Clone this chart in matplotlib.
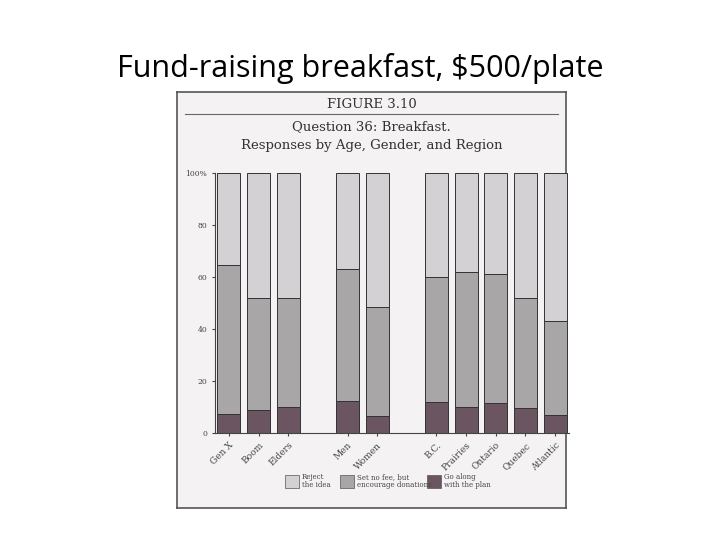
import matplotlib
matplotlib.use("Agg")
import matplotlib.pyplot as plt
from matplotlib.patches import Rectangle

categories = ["Gen X", "Boom", "Elders", "Men", "Women", "B.C.", "Prairies", "Ontario", "Quebec", "Atlantic"]
positions = [0, 1, 2, 4, 5, 7, 8, 9, 10, 11]
go_along = [7.5, 9, 10, 12.5, 6.5, 12, 10, 11.5, 9.5, 7]
no_fee = [57, 43, 42, 50.5, 42, 48, 52, 49.5, 42.5, 36]
reject = [100 - a - b for a, b in zip(go_along, no_fee)]
yticks = [0, 20, 40, 60, 80, 100]
ytick_labels = ["0", "20", "40", "60", "80", "100%"]
legend_labels = ["Reject\nthe idea", "Set no fee, but\nencourage donations", "Go along\nwith the plan"]

W, H = 720, 540
fig = plt.figure(figsize=(7.2, 5.4), dpi=100)
fig.patch.set_facecolor("white")
fig.text(0.5, 1 - 68 / H, "Fund-raising breakfast, $500/plate", ha="center", va="center",
         fontsize=22, family="Open Sans")

FX0, FY0, FW, FH = 177, 92, 389, 416
def fx(x): return (x - FX0) / FW
def fy(y): return 1 - (y - FY0) / FH

fr = fig.add_axes([FX0 / W, 1 - (FY0 + FH) / H, FW / W, FH / H])
fr.set_xlim(0, 1); fr.set_ylim(0, 1)
fr.set_facecolor("#f4f2f2")
fr.set_xticks([]); fr.set_yticks([])
for s in fr.spines.values():
    s.set_color("#555555"); s.set_linewidth(1.2)
fr.text(0.5, fy(104), "FIGURE 3.10", ha="center", va="center", fontsize=9.5, family="DejaVu Serif", color="#333")
fr.plot([0.02, 0.98], [fy(114)] * 2, color="#666", lw=0.8)
fr.text(0.5, fy(127), "Question 36: Breakfast.", ha="center", va="center", fontsize=9.5, family="DejaVu Serif", color="#333")
fr.text(0.5, fy(146), "Responses by Age, Gender, and Region", ha="center", va="center", fontsize=9.5, family="DejaVu Serif", color="#333")

ax = fig.add_axes([215 / W, 1 - 433 / H, (569 - 215) / W, (433 - 173) / H])
ax.set_facecolor("none")
c_dark, c_mid, c_light = "#6b5561", "#a9a6a8", "#d3d1d3"
ax.bar(positions, go_along, width=0.78, color=c_dark, edgecolor="#333", lw=0.7)
ax.bar(positions, no_fee, bottom=go_along, width=0.78, color=c_mid, edgecolor="#333", lw=0.7)
bot2 = [a + b for a, b in zip(go_along, no_fee)]
ax.bar(positions, reject, bottom=bot2, width=0.78, color=c_light, edgecolor="#333", lw=0.7)
ax.set_xlim(-0.47, 11.47)
ax.set_ylim(0, 100)
ax.set_yticks(yticks)
ax.set_yticklabels(ytick_labels, fontsize=5.5, family="DejaVu Serif", color="#444")
ax.set_xticks(positions)
ax.set_xticklabels(categories, rotation=45, ha="right", rotation_mode="anchor", fontsize=6.5,
                   family="DejaVu Serif", color="#444")
ax.tick_params(length=2, colors="#444")
for s in ["top", "right"]:
    ax.spines[s].set_visible(False)
ax.spines["left"].set_color("#444"); ax.spines["bottom"].set_color("#444")

for (x0, c, lab) in [(285, c_light, legend_labels[0]), (340, c_mid, legend_labels[1]), (427, c_dark, legend_labels[2])]:
    fr.add_patch(Rectangle((fx(x0), fy(488)), 14 / FW, 13 / FH, color=c, ec="#555", lw=0.5))
    fr.text(fx(x0 + 17), fy(481), lab, fontsize=5, va="center", ha="left",
            family="DejaVu Serif", color="#444", linespacing=1.1)

fig.savefig("out.png", dpi=100)
